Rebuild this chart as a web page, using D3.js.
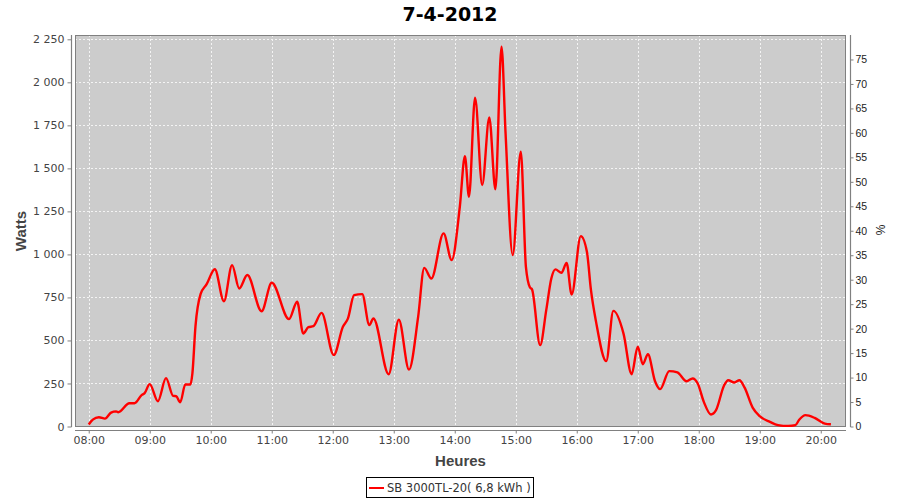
<!DOCTYPE html>
<html>
<head>
<meta charset="utf-8">
<script src="https://cdn.jsdelivr.net/npm/d3@7"></script>
<style>
  html, body { margin: 0; padding: 0; background: #ffffff; }
  svg { display: block; }
</style>
</head>
<body>
<svg id="chart" width="900" height="500"></svg>
<script>
// ---------- data ----------
const chartTitle = "7-4-2012";
const seriesName = "SB 3000TL-20( 6,8 kWh )";
const yLabel = "Watts";
const xLabel = "Heures";
const y2Label = "%";

const times = ["08:00","08:04","08:10","08:16","08:22","08:27","08:29","08:40","08:45","08:52","08:55","09:00","09:08","09:16","09:23","09:26","09:30","09:35","09:40","09:42","09:45","09:50","09:56","10:04","10:13","10:21","10:28","10:36","10:50","11:00","11:17","11:25","11:31","11:36","11:41","11:49","12:01","12:10","12:15","12:21","12:29","12:36","12:40","12:55","13:05","13:15","13:24","13:30","13:37","13:49","13:57","14:05","14:10","14:14","14:20","14:27","14:34","14:40","14:46","14:50","14:57","15:05","15:10","15:14","15:16","15:24","15:30","15:35","15:39","15:45","15:50","15:55","16:04","16:10","16:14","16:19","16:29","16:36","16:46","16:54","17:00","17:05","17:10","17:17","17:22","17:31","17:39","17:48","17:54","17:59","18:05","18:12","18:17","18:25","18:29","18:35","18:40","18:45","18:53","19:00","19:10","19:18","19:28","19:35","19:39","19:45","19:54","20:04","20:10"];
const watts = [12,40,54,46,81,88,83,135,135,182,194,246,147,281,178,176,141,244,244,310,583,769,827,914,728,938,802,880,670,835,624,725,540,577,583,660,415,579,628,763,769,589,628,304,620,331,637,922,860,1122,967,1277,1571,1335,1910,1403,1796,1378,2207,1703,996,1597,928,808,797,473,676,860,913,893,951,767,1106,1015,792,608,380,672,540,304,463,362,420,263,217,322,314,263,279,250,143,70,95,240,269,256,269,227,110,60,27,8,3,8,41,66,50,17,13];

const hourTicks = ["08:00","09:00","10:00","11:00","12:00","13:00","14:00","15:00","16:00","17:00","18:00","19:00","20:00"];
const leftTicks = [0,250,500,750,1000,1250,1500,1750,2000,2250];
const rightTicks = [0,5,10,15,20,25,30,35,40,45,50,55,60,65,70,75];
const xDomain = ["07:46:30","20:24:50"];
const leftDomain = [0, 2275];
const rightDomain = [0, 80];

// ---------- layout ----------
const plot = {left: 75, top: 35, right: 846, bottom: 427};
const svg = d3.select("#chart");
const day = "2012-04-07T";
const parse = s => new Date(day + (s.length === 5 ? s + ":00" : s));

const x = d3.scaleTime().domain(xDomain.map(parse)).range([plot.left, plot.right]);
const y = d3.scaleLinear().domain(leftDomain).range([426.5, plot.top]);
const y2 = d3.scaleLinear().domain(rightDomain).range([426.5, plot.top]);

const data = times.map((t, i) => ({t: parse(t), v: watts[i]}));

// background
svg.append("rect").attr("x", 0).attr("y", 0).attr("width", 900).attr("height", 500).attr("fill", "#fff");

// plot area
svg.append("rect")
  .attr("x", plot.left).attr("y", plot.top)
  .attr("width", plot.right - plot.left).attr("height", plot.bottom - plot.top)
  .attr("fill", "#cccccc");

svg.append("clipPath").attr("id", "clip").append("rect")
  .attr("x", plot.left).attr("y", plot.top)
  .attr("width", plot.right - plot.left).attr("height", plot.bottom - plot.top);

// grid
const grid = svg.append("g").attr("clip-path", "url(#clip)");
grid.selectAll("line.v").data(hourTicks.map(parse)).enter().append("line")
  .attr("x1", d => Math.round(x(d)) + 0.5).attr("x2", d => Math.round(x(d)) + 0.5)
  .attr("y1", plot.top).attr("y2", plot.bottom)
  .attr("stroke", "#f4f4f4").attr("stroke-width", 1).attr("stroke-dasharray", "2,2");
grid.selectAll("line.h").data(leftTicks).enter().append("line")
  .attr("y1", d => Math.round(y(d)) + 0.5).attr("y2", d => Math.round(y(d)) + 0.5)
  .attr("x1", plot.left).attr("x2", plot.right)
  .attr("stroke", "#f4f4f4").attr("stroke-width", 1).attr("stroke-dasharray", "2,2");

// plot border
svg.append("rect")
  .attr("x", plot.left + 0.5).attr("y", plot.top + 0.5)
  .attr("width", plot.right - plot.left - 1).attr("height", plot.bottom - plot.top - 1)
  .attr("fill", "none").attr("stroke", "#808080").attr("stroke-width", 1);

// series line
const line = d3.line().x(d => x(d.t)).y(d => y(d.v)).curve(d3.curveMonotoneX);
svg.append("path").datum(data)
  .attr("clip-path", "url(#clip)")
  .attr("d", line)
  .attr("fill", "none").attr("stroke", "#ff0000").attr("stroke-width", 2.4)
  .attr("stroke-linejoin", "round");

// axes
const tickFont = "DejaVu Sans, sans-serif";
const fmt = v => d3.format(",")(v).replace(/,/g, " ");

const leftAxis = svg.append("g").attr("transform", "translate(71.5,0)")
  .call(d3.axisLeft(y).tickValues(leftTicks).tickSize(4).tickPadding(3).tickFormat(fmt));
leftAxis.select(".domain").attr("d", `M0,${plot.top}V${plot.bottom}`);

const bottomAxis = svg.append("g").attr("transform", "translate(0,430.5)")
  .call(d3.axisBottom(x).tickValues(hourTicks.map(parse)).tickSize(3).tickPadding(3).tickFormat(d3.timeFormat("%H:%M")));
bottomAxis.select(".domain").attr("d", `M${plot.left},0H${plot.right}`);

const rightAxis = svg.append("g").attr("transform", "translate(850.5,0)")
  .call(d3.axisRight(y2).tickValues(rightTicks).tickSize(3).tickPadding(2).tickFormat(d3.format("d")));
rightAxis.select(".domain").attr("d", `M0,${plot.top}V${plot.bottom}`);

[leftAxis, bottomAxis, rightAxis].forEach(a => {
  a.select(".domain").attr("stroke", "#808080").attr("stroke-width", 1.2);
  a.selectAll(".tick line").attr("stroke", "#808080");
  a.selectAll(".tick text").attr("font-family", tickFont).attr("font-size", 11).attr("fill", "#444");
});
rightAxis.selectAll(".tick text").attr("font-family", "Liberation Sans, Arial, sans-serif").attr("font-size", 10.5).attr("fill", "#222");

// title
svg.append("text").attr("x", 450).attr("y", 21)
  .attr("text-anchor", "middle")
  .attr("font-family", "DejaVu Sans, sans-serif").attr("font-weight", "bold").attr("font-size", 19)
  .attr("fill", "#000").text(chartTitle);

// axis labels
svg.append("text")
  .attr("transform", `translate(26,${(plot.top + plot.bottom) / 2}) rotate(-90)`)
  .attr("text-anchor", "middle")
  .attr("font-family", "Liberation Sans, Arial, sans-serif").attr("font-weight", "bold").attr("font-size", 15)
  .attr("fill", "#444").text(yLabel);

svg.append("text")
  .attr("x", (plot.left + plot.right) / 2).attr("y", 466)
  .attr("text-anchor", "middle")
  .attr("font-family", "Liberation Sans, Arial, sans-serif").attr("font-weight", "bold").attr("font-size", 15)
  .attr("fill", "#444").text(xLabel);

svg.append("text")
  .attr("transform", `translate(885,230) rotate(-90)`)
  .attr("text-anchor", "middle")
  .attr("font-family", "Liberation Sans, Arial, sans-serif").attr("font-size", 12)
  .attr("fill", "#222").text(y2Label);

// legend
const lg = svg.append("g");
lg.append("rect").attr("x", 366.5).attr("y", 477.5).attr("width", 167).attr("height", 20)
  .attr("fill", "#fff").attr("stroke", "#000").attr("stroke-width", 1);
lg.append("line").attr("x1", 369).attr("x2", 384).attr("y1", 488).attr("y2", 488)
  .attr("stroke", "#ff0000").attr("stroke-width", 2);
lg.append("text").attr("x", 387).attr("y", 492)
  .attr("font-family", tickFont).attr("font-size", 11.5).attr("fill", "#333")
  .text(seriesName);
</script>
</body>
</html>
